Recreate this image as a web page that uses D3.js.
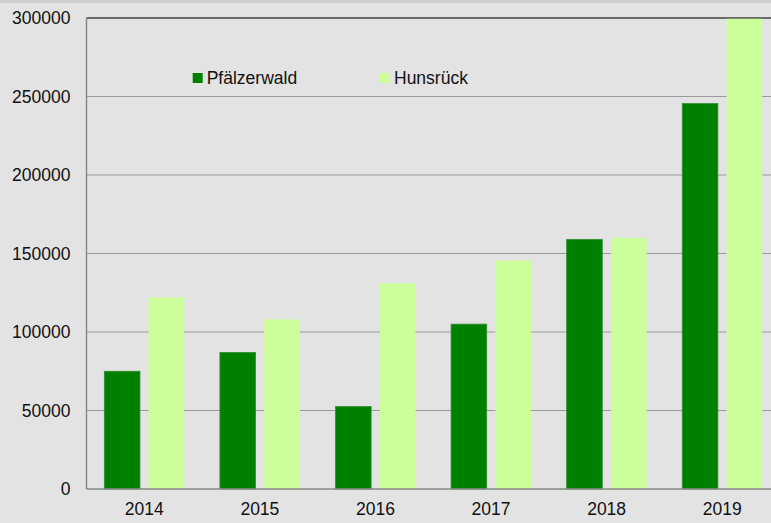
<!DOCTYPE html>
<html>
<head>
<meta charset="utf-8">
<script src="https://cdn.jsdelivr.net/npm/d3@7"></script>
<style>
html,body{margin:0;padding:0;background:#e3e3e3;overflow:hidden;}
svg{display:block;}
</style>
</head>
<body>
<svg id="chart" width="771" height="523"></svg>
<script>
const years = ["2014","2015","2016","2017","2018","2019"];
const seriesNames = ["Pfälzerwald","Hunsrück"];
const pfaelzerwald = [75000, 87000, 52500, 105000, 159000, 245500];
const hunsrueck = [122000, 108000, 131000, 145500, 160000, 299500];
const yTicks = [0, 50000, 100000, 150000, 200000, 250000, 300000];
const colors = ["#008000", "#ccff99"];

(function () {
const svg = d3.select("#chart");
const W = 771, H = 523;
const mLeft = 86.5, mTop = 18, mBottom = 489, mRight = 780;
const font = "Liberation Sans, Arial, sans-serif";

svg.append("rect").attr("x",0).attr("y",0).attr("width",W).attr("height",H).attr("fill","#e3e3e3");
svg.append("rect").attr("x",0).attr("y",0).attr("width",W).attr("height",3).attr("fill","#cfcfcf");

const x = d3.scaleBand().domain(years).range([mLeft, mRight]).paddingInner(0).paddingOuter(0);
const xs = d3.scaleBand().domain(seriesNames).range([0, x.bandwidth()]).paddingInner(0.196).paddingOuter(0.4025);
const y = d3.scaleLinear().domain([0, 300000]).range([mBottom, mTop]);

// gridlines
svg.append("g").selectAll("line").data(yTicks.filter(t => t > 0 && t < 300000)).join("line")
  .attr("x1", mLeft).attr("x2", mRight)
  .attr("y1", d => y(d)).attr("y2", d => y(d))
  .attr("stroke", "#9a9a9a").attr("stroke-width", 1);
// top line
svg.append("line").attr("x1", mLeft).attr("x2", mRight).attr("y1", y(300000)).attr("y2", y(300000))
  .attr("stroke", "#6a6a6a").attr("stroke-width", 2);

const data = years.map((yr, i) => ({year: yr, values: [pfaelzerwald[i], hunsrueck[i]]}));

const g = svg.append("g");
data.forEach(d => {
  d.values.forEach((v, j) => {
    g.append("rect")
      .attr("x", x(d.year) + xs(seriesNames[j]))
      .attr("y", y(v))
      .attr("width", xs.bandwidth())
      .attr("height", y(0) - y(v))
      .attr("fill", colors[j])
      .attr("stroke", j === 0 ? "#2e8f2e" : "none")
      .attr("stroke-width", j === 0 ? 0.8 : 0);
  });
});

// axes lines
svg.append("line").attr("x1", mLeft).attr("x2", mLeft).attr("y1", mTop).attr("y2", mBottom)
  .attr("stroke", "#888").attr("stroke-width", 1.5);
svg.append("line").attr("x1", mLeft).attr("x2", mRight).attr("y1", mBottom).attr("y2", mBottom)
  .attr("stroke", "#888").attr("stroke-width", 1.5);

// y axis labels
const yAxis = d3.axisLeft(y).tickValues(yTicks).tickSize(0).tickPadding(16).tickFormat(d3.format("d"));
const ya = svg.append("g").attr("transform", `translate(${mLeft},0)`).call(yAxis);
ya.select(".domain").remove();
ya.selectAll("text").attr("font-family", font).attr("font-size", "17.5px").attr("fill", "#111");

// x axis labels
const xAxis = d3.axisBottom(x).tickSize(0).tickPadding(14);
const xa = svg.append("g").attr("transform", `translate(0,${mBottom})`).call(xAxis);
xa.select(".domain").remove();
xa.selectAll("text").attr("font-family", font).attr("font-size", "17.5px").attr("fill", "#111");

// legend
const legendX = [192.7, 380];
seriesNames.forEach((name, j) => {
  svg.append("rect").attr("x", legendX[j]).attr("y", 73).attr("width", 10).attr("height", 10).attr("fill", colors[j]);
  svg.append("text").attr("x", legendX[j] + 14).attr("y", 83.5)
    .attr("font-family", font).attr("font-size", "17.5px").attr("fill", "#111").text(name);
});
})();
</script>
</body>
</html>
